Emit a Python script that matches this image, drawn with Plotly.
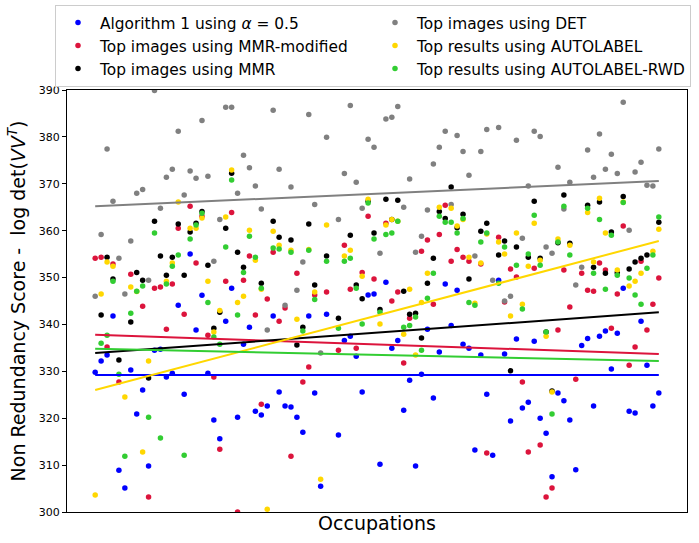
import plotly.graph_objects as go

N = 96
occupations = list(range(N))

blue = [329.8, 332.2, 333.5, 341.8, 308.9, 305.1, 330.3, 320.9, 326.0, 309.8,
        334.5, 334.7, 328.8, 329.6, 344.1, 325.1, 355.0, 338.8, 346.2, 329.6,
        319.6, 315.6, 340.7, 347.7, 320.2, 335.8, 339.4, 321.5, 320.7, 322.6,
        341.8, 325.6, 322.6, 322.4, 320.2, 317.0, 341.8, 325.4, 305.5, 342.2,
        None, 316.4, 336.6, 337.5, 333.2, 325.6, 346.3, 346.5, 310.2, 349.0,
        334.9, 336.6, 321.7, 328.1, 309.8, 329.4, 339.0, 324.3, 334.1, 348.6,
        339.8, 347.3, 335.8, 334.9, 313.2, 333.5, 325.1, 312.1, 349.4, 333.7,
        319.4, 336.9, 322.2, 323.4, 336.4, 320.0, 316.8, 307.5, 325.4, 323.7,
        319.6, 309.0, 335.5, 337.0, 322.6, 337.5, 338.6, 330.5, 338.1, 347.7,
        321.5, 321.1, 340.7, 331.3, 322.6, 325.4]

red = [354.1, 354.35, 335.2, 352.9, 327.7, None, 350.7, None, 343.9, 303.2,
       347.7, 348.0, 339.0, 348.6, 360.5, 342.2, 365.2, 353.1, 363.1, 337.7,
       328.8, 313.4, 349.2, 363.9, 300.0, 349.4, 354.6, 342.0, 323.0, 345.4,
       355.4, 340.7, 343.5, 311.9, 350.9, 327.7, 330.9, 346.3, None, 346.9,
       None, 334.5, 356.9, 347.5, 334.9, 351.1, 363.1, 349.7, None, 361.6,
       345.0, 346.9, 331.8, 341.3, None, 355.6, 358.0, 344.3, 359.2, 365.4,
       353.5, 356.0, 354.35, 353.5, None, 352.9, 312.6, None, 358.6, 344.8,
       351.8, 350.1, 327.7, 312.8, 352.0, 314.3, 303.2, 305.1, 338.8, 351.6,
       343.7, 328.3, 350.9, 347.3, 347.1, 353.1, 351.6, 339.2, 346.5, 361.0,
       331.3, 335.2, 353.5, 338.8, 344.3, 349.9]

black = [None, 342.0, 354.35, 349.7, 332.4, None, 340.5, 351.1, 349.4, 328.6,
         362.0, 354.6, 350.5, 354.35, 361.4, 350.5, 359.7, 361.6, 364.1, 352.6,
         339.2, 342.6, 360.5, 372.25, 355.4, 352.2, None, None, 348.8, None,
         362.0, 358.6, None, 358.0, 335.6, 339.4, 361.4, 348.4, None, 354.6,
         None, 341.3, None, 359.0, 348.4, 345.5, 366.3, 359.5, 343.2, 366.7,
         362.4, 366.5, 347.1, 342.2, 342.4, 337.1, 348.8, 354.1, 364.1, 362.6,
         369.3, 360.6, 363.5, 349.7, None, 359.9, 361.6, None, 354.8, 357.8,
         330.1, 356.5, None, 354.35, 366.3, 354.1, 338.4, 325.8, 357.4, 367.6,
         357.3, None, None, 365.4, 352.2, 366.1, 350.9, 359.7, 351.0, 367.3,
         351.8, 353.3, 354.1, 354.8, None, 361.8]

gray = [346.0, 359.2, 377.4, 366.3, 354.1, 346.5, 357.8, 368.0, 368.8, 349.4,
        389.9, 364.8, 371.4, 373.1, 381.2, 367.6, 372.7, 371.2, 383.5, 371.6,
        353.5, 362.4, 386.3, 386.3, 368.0, 376.1, 373.4, 369.5, 364.6, 338.8,
        385.7, 373.1, 344.1, 369.3, 347.3, 353.3, 384.8, 365.6, 333.9, 379.9,
        None, 362.4, 372.2, 386.7, 370.3, 364.8, 379.5, 377.8, 355.2, 383.8,
        384.2, 386.5, 365.0, 371.0, 355.4, 358.8, 364.4, 374.2, 377.8, 381.2,
        365.6, 380.3, 376.9, 371.8, 354.6, 376.9, 381.6, 349.4, 382.0, 345.0,
        346.0, 379.3, 358.4, 369.5, 381.2, 380.1, 356.5, 355.2, 373.5, 364.6,
        370.3, 348.4, 352.2, 377.2, 371.4, 380.6, 373.1, 376.3, 372.2, 387.4,
        360.1, 372.5, 374.6, 369.7, 369.5, 377.4]

yellow = [303.6, 346.5, 353.3, 352.4, None, 324.5, 348.0, 347.0, 312.8, 332.2,
          None, None, 349.2, 353.1, 366.1, None, 360.5, 360.5, 362.7, 349.2,
          338.4, 343.0, 362.9, 372.96, 344.7, 346.0, 360.1, 353.7, 347.5, 300.6,
          359.9, 356.9, None, 355.8, 341.1, None, 356.0, 346.9, 307.0, 361.2,
          None, None, 354.6, 355.8, None, 350.3, 366.7, None, 340.1, 361.2,
          362.4, 362.0, 337.9, 347.5, 333.5, 344.7, 350.9, None, 365.0, None,
          364.8, 361.0, 362.4, 354.35, 344.5, 353.1, 359.3, None, 357.6, 355.0,
          341.8, 359.5, 344.3, 352.4, 361.6, 353.7, 337.5, 325.6, 358.2, None,
          356.9, None, None, 363.9, 353.3, 366.9, 359.5, None, 351.6, 366.1,
          348.2, 349.2, 350.9, None, 355.6, 360.3]

green = [None, 336.0, 337.7, 349.2, 329.4, 311.9, 342.4, 347.1, 348.2, 320.2,
         359.5, 315.8, 348.6, 352.4, 354.8, 312.1, 358.2, 361.2, 363.7, 344.7,
         337.3, 335.8, 356.5, 370.8, 342.0, 351.1, 358.8, 354.35, 347.7, None,
         356.3, 356.1, None, 355.4, None, 338.6, 355.8, 345.3, None, 353.5,
         None, 339.2, 353.5, 354.1, 347.7, 340.1, 365.9, 358.2, 342.6, 359.2,
         359.5, 362.0, 339.4, 339.8, 341.6, 334.5, 345.6, 350.9, 363.1, 361.8,
         361.8, 359.5, 362.6, 344.7, 344.1, 357.6, 359.5, None, 348.8, 356.5,
         None, 352.6, 343.3, 355.0, 363.3, 352.6, 338.4, 320.9, 357.6, 365.2,
         354.8, None, None, 364.8, 350.9, 362.4, 347.5, 359.0, 350.5, 366.0,
         349.9, 346.3, 344.3, 352.0, 354.8, 362.9]

# trend line end values (first and last occupation)
trend_start = {"blue": 329.2, "red": 337.8, "black": 333.9, "gray": 365.2, "yellow": 326.0, "green": 334.8}
trend_end = {"blue": 329.2, "red": 333.7, "black": 342.6, "gray": 370.6, "yellow": 357.8, "green": 332.2}

series = [
    ("blue", "Algorithm 1 using <i>α</i> = 0.5", blue, "#0000ff", 1),
    ("red", "Top images using MMR-modified", red, "#dc143c", 3),
    ("black", "Top images using MMR", black, "#000000", 5),
    ("gray", "Top images using DET", gray, "#808080", 2),
    ("yellow", "Top results using AUTOLABEL", yellow, "#ffd700", 4),
    ("green", "Top results using AUTOLABEL-RWD", green, "#32cd32", 6),
]

fig = go.Figure()
for key, name, vals, col, rank in series:
    fig.add_trace(go.Scatter(
        x=occupations, y=vals, mode="markers", name=name,
        marker=dict(color=col, size=5.5, line=dict(width=0)),
        legendrank=rank,
    ))
for key, name, vals, col, rank in series:
    fig.add_trace(go.Scatter(
        x=[occupations[0], occupations[-1]], y=[trend_start[key], trend_end[key]],
        mode="lines", line=dict(color=col, width=2), showlegend=False,
        hoverinfo="skip",
    ))

# plot area in pixels: x 67..687, y 90..512 (height 422)
def px_x(p):
    return (p - 67) / 620.0

def px_y(p):
    return (512 - p) / 422.0

# legend shadow (matplotlib-style)
fig.add_shape(type="rect", xref="paper", yref="paper",
              x0=px_x(58), x1=px_x(691), y0=px_y(84.5), y1=px_y(8),
              fillcolor="#a8a8a8", line=dict(width=0), layer="above")

font_family = "DejaVu Sans"
fig.update_layout(
    width=699, height=543,
    margin=dict(l=67, r=12, t=90, b=31, autoexpand=False),
    paper_bgcolor="white", plot_bgcolor="white",
    font=dict(family=font_family, color="black"),
    showlegend=True,
    legend=dict(
        orientation="h", x=px_x(55), y=px_y(5), xanchor="left", yanchor="top",
        entrywidth=268, entrywidthmode="pixels", itemwidth=34,
        font=dict(size=15.4, family=font_family, color="black"),
        bgcolor="white", bordercolor="#cccccc", borderwidth=1,
    ),
    xaxis=dict(
        range=[-4.75, 99.75], showticklabels=False, ticks="",
        showgrid=False, zeroline=False,
        showline=True, mirror=True, linecolor="black", linewidth=1,
        title=dict(text="Occupations", font=dict(size=19, family=font_family), standoff=4),
    ),
    yaxis=dict(
        range=[300, 390], tickvals=list(range(300, 391, 10)),
        ticks="outside", ticklen=4, tickwidth=1, tickcolor="black",
        tickfont=dict(size=11, family=font_family),
        showgrid=False, zeroline=False,
        showline=True, mirror=True, linecolor="black", linewidth=1,
        title=dict(text="Non Redundancy Score -  log det(<i>VV</i><sup><i>T</i></sup>)",
                   font=dict(size=19, family=font_family), standoff=8),
    ),
)

fig.write_html("out.html")
